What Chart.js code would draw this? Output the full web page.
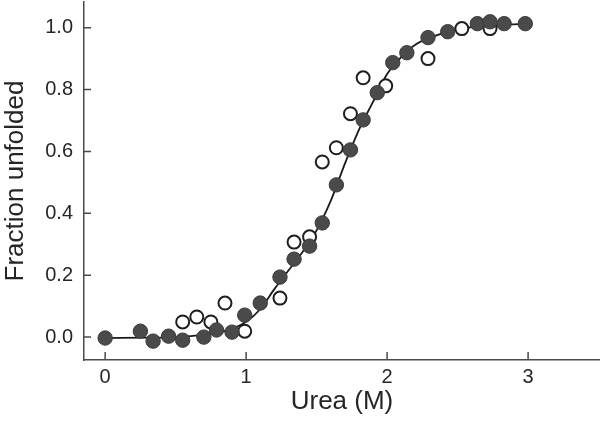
<!DOCTYPE html>
<html>
<head>
<meta charset="utf-8">
<script src="https://cdn.jsdelivr.net/npm/chart.js@4.4.1/dist/chart.umd.min.js"></script>
<style>
  html, body { margin: 0; padding: 0; background: #fff; }
  #wrap { width: 600px; height: 428px; }
</style>
</head>
<body>
<div id="wrap"><canvas id="chart" width="600" height="428"></canvas></div>
<script>
// filled circles
const filledX = [0, 0.25, 0.34, 0.45, 0.55, 0.70, 0.79, 0.90, 0.99, 1.10, 1.24, 1.34, 1.45, 1.54, 1.64, 1.74, 1.83, 1.93, 2.04, 2.14, 2.29, 2.43, 2.64, 2.73, 2.83, 2.98];
const filledY = [-0.003, 0.019, -0.013, 0.003, -0.01, 0.0, 0.023, 0.016, 0.071, 0.11, 0.194, 0.252, 0.294, 0.369, 0.492, 0.605, 0.702, 0.79, 0.887, 0.919, 0.968, 0.987, 1.013, 1.019, 1.013, 1.013];

// open circles
const openX = [0.55, 0.65, 0.75, 0.85, 0.99, 1.24, 1.34, 1.45, 1.54, 1.64, 1.74, 1.83, 1.99, 2.29, 2.53, 2.73];
const openY = [0.049, 0.065, 0.049, 0.11, 0.019, 0.126, 0.307, 0.324, 0.566, 0.612, 0.722, 0.838, 0.812, 0.90, 0.997, 0.997];

// fitted curve
const curveX = [0, 0.3, 0.5, 0.7, 0.85, 1.0, 1.1, 1.2, 1.3, 1.4, 1.5, 1.6, 1.7, 1.8, 1.9, 2.0, 2.1, 2.2, 2.35, 2.5, 2.7, 2.85, 3.0];
const curveY = [-0.003, -0.002, 0.0, 0.008, 0.02, 0.05, 0.09, 0.155, 0.215, 0.275, 0.345, 0.44, 0.56, 0.67, 0.76, 0.85, 0.905, 0.945, 0.975, 0.995, 1.005, 1.01, 1.012];

const xTicks = [0, 1, 2, 3];
const yTicks = [0, 0.2, 0.4, 0.6, 0.8, 1.0];

const toPts = (xs, ys) => xs.map((x, i) => ({ x: x, y: ys[i] }));

const FONT = "'Liberation Sans', Arial, sans-serif";
const TEXT = '#262626';
const AXIS = '#4a4a4a';

// ticks drawn on the inside of the axes
const innerTicks = {
  id: 'innerTicks',
  afterDraw(chart) {
    const ctx = chart.ctx;
    const xs = chart.scales.x, ys = chart.scales.y;
    const area = chart.chartArea;
    ctx.save();
    ctx.strokeStyle = AXIS;
    ctx.lineWidth = 1.5;
    ctx.beginPath();
    xTicks.forEach(v => {
      const px = xs.getPixelForValue(v);
      ctx.moveTo(px, area.bottom);
      ctx.lineTo(px, area.bottom - 8);
    });
    yTicks.forEach(v => {
      const py = ys.getPixelForValue(v);
      ctx.moveTo(area.left, py);
      ctx.lineTo(area.left + 7, py);
    });
    ctx.stroke();
    ctx.restore();
  }
};

new Chart(document.getElementById('chart'), {
  type: 'scatter',
  data: {
    datasets: [
      {
        type: 'line',
        data: toPts(curveX, curveY),
        borderColor: '#1a1a1a',
        borderWidth: 1.8,
        pointRadius: 0,
        cubicInterpolationMode: 'monotone',
        fill: false,
        order: 3
      },
      {
        data: toPts(openX, openY),
        pointRadius: 6.5,
        pointBorderWidth: 2,
        pointBackgroundColor: '#ffffff',
        pointBorderColor: '#1e1e1e',
        order: 2
      },
      {
        data: toPts(filledX, filledY),
        pointRadius: 7.2,
        pointBorderWidth: 1,
        pointBackgroundColor: '#4a4a4a',
        pointBorderColor: '#3a3a3a',
        order: 1
      }
    ]
  },
  options: {
    responsive: false,
    animation: false,
    layout: { autoPadding: false, padding: { top: 2, right: 0, bottom: 0, left: 0 } },
    plugins: { legend: { display: false }, tooltip: { enabled: false } },
    scales: {
      x: {
        type: 'linear',
        min: -0.15,
        max: 3.51,
        afterBuildTicks: s => { s.ticks = xTicks.map(v => ({ value: v })); },
        afterFit: s => { s.height = 68; s.paddingLeft = 0; s.paddingRight = 0; },
        grid: { display: true, drawOnChartArea: false, drawTicks: false },
        border: { display: true, color: AXIS, width: 1.5 },
        ticks: { color: TEXT, font: { family: FONT, size: 20 }, padding: 5, callback: v => String(v) },
        title: { display: true, text: 'Urea (M)', color: TEXT, font: { family: FONT, size: 26 }, padding: { top: 0, bottom: 11 } }
      },
      y: {
        type: 'linear',
        min: -0.074,
        max: 1.083,
        afterBuildTicks: s => { s.ticks = yTicks.map(v => ({ value: v })); },
        afterFit: s => { s.width = 84; s.paddingTop = 0; s.paddingBottom = 0; },
        grid: { display: true, drawOnChartArea: false, drawTicks: false },
        border: { display: true, color: AXIS, width: 1.5 },
        ticks: { color: TEXT, font: { family: FONT, size: 20 }, padding: 11, callback: v => v.toFixed(1) },
        title: { display: true, text: 'Fraction unfolded', color: TEXT, font: { family: FONT, size: 26 }, padding: { top: 0, bottom: 0 } }
      }
    }
  },
  plugins: [innerTicks]
});
</script>
</body>
</html>
